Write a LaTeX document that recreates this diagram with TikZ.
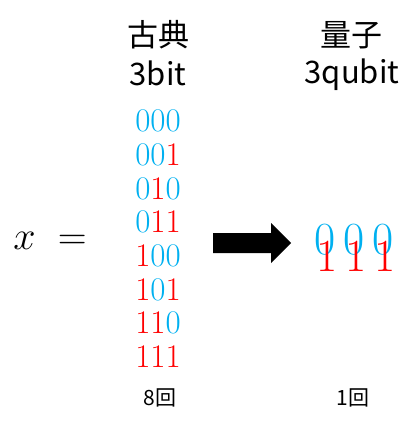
\RequirePackage{fix-cm}
\documentclass[tikz,border=0pt]{standalone}
\usepackage{fontspec}
\usepackage{xcolor}
\usepackage{tikz}
\usetikzlibrary{positioning}
\newfontfamily\cjk{Noto Sans CJK SC}
\definecolor{zerocol}{HTML}{00B0F0}
\definecolor{onecol}{HTML}{FF0000}
\newcommand{\bitd}[1]{\ifnum#1=0 \textcolor{zerocol}{0}\else\textcolor{onecol}{1}\fi}

\begin{document}
\begin{tikzpicture}[x=1pt,y=-1pt,inner sep=0pt]
\useasboundingbox (0,0) rectangle (411,425);
\tikzset{head/.style={font=\cjk\fontsize{31}{34}\selectfont},
  count/.style={font=\cjk\fontsize{21}{24}\selectfont},
  bits/.style={font=\fontsize{33}{36}\selectfont},
  qbits/.style={font=\fontsize{46}{48}\selectfont}}
% headings
\node[head] (cl) at (158,35) {古典};
\node[head] (clb) at (158,73) {3bit};
\node[head] (qu) at (351,35) {量子};
\node[head] (qub) at (352,75) {3qubit};
% x =
\node[font=\fontsize{40}{44}\selectfont] (xeq) at (50,241) {$x\;=$};
% all eight inputs
\foreach \a/\b/\c [count=\i] in {0/0/0,0/0/1,0/1/0,0/1/1,1/0/0,1/0/1,1/1/0,1/1/1}
  \node[bits] (r\i) at (158,{121+33.7*(\i-1)}) {\bitd\a\bitd\b\bitd\c};
% block arrow
\fill (213,233) -- (271,233) -- (271,223) -- (291,243) -- (271,263)
  -- (271,253) -- (213,253) -- cycle;
% superposed qubits
\foreach \px [count=\j] in {325,354,383} {
  \node[qbits,text=zerocol] (z\j) at (\px,240) {0};
  \node[qbits,text=onecol] (o\j) at (\px+2,256) {1};
}
% counts
\node[count] (n8) at (160,398) {8回};
\node[count] (n1) at (353,398) {1回};
\end{tikzpicture}
\end{document}
